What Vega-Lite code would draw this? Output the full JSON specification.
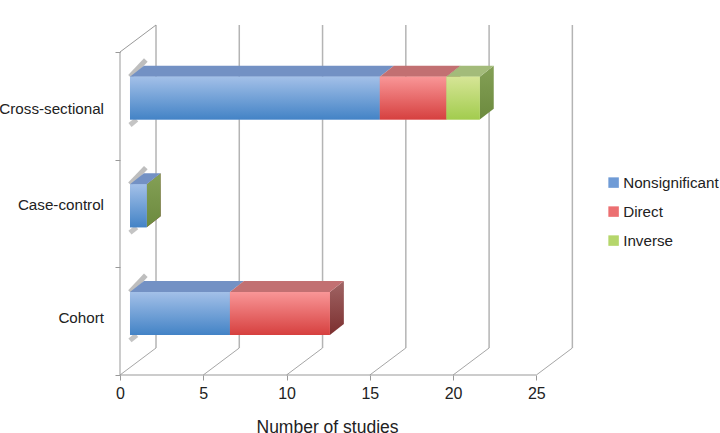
{
"$schema":"https://vega.github.io/schema/vega-lite/v6.json",
"width":453,"height":350,
"autosize":{"type":"none"},
"padding":{"left":120,"top":25,"right":147,"bottom":58},
"background":"white",
"config":{"view":{"stroke":null},"font":"Liberation Sans"},
"resolve":{"axis":{"x":"independent","y":"independent"}},
"datasets":{
"studies":[
{"design":"Cross-sectional","association":"Nonsignificant","n":15},
{"design":"Cross-sectional","association":"Direct","n":4},
{"design":"Cross-sectional","association":"Inverse","n":2},
{"design":"Case-control","association":"Nonsignificant","n":1},
{"design":"Case-control","association":"Direct","n":0},
{"design":"Case-control","association":"Inverse","n":0},
{"design":"Cohort","association":"Nonsignificant","n":6},
{"design":"Cohort","association":"Direct","n":6}
],
"ticks":[{"tick":0},{"tick":5},{"tick":10},{"tick":15},{"tick":20},{"tick":25}],
"designs":[{"design":"Cohort"},{"design":"Case-control"},{"design":"Cross-sectional"}]
},
"data":{"name":"studies"},
"transform":[
{"calculate":"indexof(['Nonsignificant','Direct','Inverse'],datum.association)","as":"ord"},
{"stack":"n","groupby":["design"],"sort":[{"field":"ord","order":"ascending"}],"as":["s0","s1"]},
{"calculate":"indexof(['Cohort','Case-control','Cross-sectional'],datum.design)","as":"row"},
{"calculate":"datum.s0+0.6","as":"xa"},
{"calculate":"datum.s1+0.6","as":"xb"},
{"calculate":"datum.row+0.372","as":"yb"},
{"calculate":"datum.row+0.771","as":"yt"},
{"calculate":"[0,1]","as":"d"},
{"flatten":["d"]},
{"calculate":"datum.xa+datum.d*0.841","as":"xal"},
{"calculate":"datum.xb+datum.d*0.841","as":"xbl"},
{"calculate":"datum.yb+datum.d*0.102","as":"ybl"},
{"calculate":"datum.yt+datum.d*0.102","as":"ytl"}
],
"layer":[
{"data":{"name":"ticks"},"transform":[{"calculate":"datum.tick+2.162","as":"bx"},{"calculate":"0.2508","as":"by0"},{"calculate":"3.2508","as":"by1"}],
"mark":{"type":"rule","stroke":"#b4b4b4","strokeWidth":1.5},
"encoding":{
"x":{"field":"bx","type":"quantitative","scale":{"domain":[0,27.2],"nice":false,"zero":false},
"axis":{"values":[0,5,10,15,20,25],"grid":false,"domain":false,"tickSize":5,"tickColor":"#999999","labelFontSize":16,"labelFlush":false,"labelOverlap":false,"labelColor":"#222222","labelPadding":5,"title":"Number of studies","titleFontSize":17.5,"titleFontWeight":"normal","titleColor":"#222222","titleAnchor":"start","titleAlign":"center","titleBaseline":"alphabetic","titleX":207,"titleY":57}},
"y":{"field":"by0","type":"quantitative","scale":{"domain":[0,3.2508],"nice":false,"zero":false},
"axis":{"values":[0,1,2,3],"labels":false,"grid":false,"domain":false,"tickSize":5,"tickColor":"#999999","title":null}},
"y2":{"field":"by1"}}},
{"data":{"name":"ticks"},"transform":[{"calculate":"datum.tick+2.162","as":"bx"},{"calculate":"0","as":"fy"},{"calculate":"0.2508","as":"by"}],
"mark":{"type":"rule","stroke":"#a6a6a6","strokeWidth":1},
"encoding":{"x":{"field":"tick","type":"quantitative","axis":null},"x2":{"field":"bx"},"y":{"field":"fy","type":"quantitative","axis":null},"y2":{"field":"by"}}},
{"data":{"values":[{"a":0,"b":0,"c":3}]},
"mark":{"type":"rule","stroke":"#999999","strokeWidth":1},
"encoding":{"x":{"field":"a","type":"quantitative","axis":null},"y":{"field":"b","type":"quantitative","axis":null},"y2":{"field":"c"}}},
{"data":{"values":[{"a":0,"b":25,"c":0}]},
"mark":{"type":"rule","stroke":"#999999","strokeWidth":1},
"encoding":{"x":{"field":"a","type":"quantitative","axis":null},"x2":{"field":"b"},"y":{"field":"c","type":"quantitative","axis":null}}},
{"data":{"values":[{"a":0,"b":2.162,"c":3,"e":3.2508}]},
"mark":{"type":"rule","stroke":"#999999","strokeWidth":1},
"encoding":{"x":{"field":"a","type":"quantitative","axis":null},"x2":{"field":"b"},"y":{"field":"c","type":"quantitative","axis":null},"y2":{"field":"e"}}},
{"transform":[{"filter":"datum.association=='Nonsignificant' && datum.d==0"},{"calculate":"datum.xa+0.95","as":"sx"},{"calculate":"datum.yt+0.155","as":"sy"}],
"mark":{"type":"rule","stroke":"#a8a8a8","strokeWidth":5,"opacity":0.75},
"encoding":{"x":{"field":"xa","type":"quantitative","axis":null},"x2":{"field":"sx"},"y":{"field":"yt","type":"quantitative","axis":null},"y2":{"field":"sy"}}},
{"transform":[{"filter":"datum.association=='Nonsignificant' && datum.d==0"},{"calculate":"datum.xa+0.4","as":"sx"},{"calculate":"datum.yb-0.05","as":"sy"}],
"mark":{"type":"rule","stroke":"#b0b0b0","strokeWidth":5,"opacity":0.75},
"encoding":{"x":{"field":"xa","type":"quantitative","axis":null},"x2":{"field":"sx"},"y":{"field":"sy","type":"quantitative","axis":null},"y2":{"field":"yb"}}},
{"transform":[{"filter":"datum.association=='Direct'"}],
"mark":{"type":"area","orient":"vertical","color":{"gradient":"linear","x1":0,"y1":0,"x2":0,"y2":1,"stops":[{"offset":0,"color":"#a06565"},{"offset":1,"color":"#7c2f2f"}]}},
"encoding":{"x":{"field":"xbl","type":"quantitative","axis":null,"stack":null},"y":{"field":"ybl","type":"quantitative","axis":null,"stack":null},"y2":{"field":"ytl"},"detail":{"field":"design"}}},
{"transform":[{"filter":"datum.association=='Inverse'"}],
"mark":{"type":"area","orient":"vertical","color":{"gradient":"linear","x1":0,"y1":0,"x2":0,"y2":1,"stops":[{"offset":0,"color":"#84a056"},{"offset":1,"color":"#6c8a3e"}]}},
"encoding":{"x":{"field":"xbl","type":"quantitative","axis":null,"stack":null},"y":{"field":"ybl","type":"quantitative","axis":null,"stack":null},"y2":{"field":"ytl"},"detail":{"field":"design"}}},
{"transform":[{"filter":"datum.association=='Nonsignificant'"}],
"mark":{"type":"area","orient":"horizontal","color":"#7391c4"},
"encoding":{"y":{"field":"ytl","type":"quantitative","axis":null,"stack":null},"x":{"field":"xal","type":"quantitative","axis":null,"stack":null},"x2":{"field":"xbl"},"detail":{"field":"design"}}},
{"transform":[{"filter":"datum.association=='Direct'"}],
"mark":{"type":"area","orient":"horizontal","color":"#c27072"},
"encoding":{"y":{"field":"ytl","type":"quantitative","axis":null,"stack":null},"x":{"field":"xal","type":"quantitative","axis":null,"stack":null},"x2":{"field":"xbl"},"detail":{"field":"design"}}},
{"transform":[{"filter":"datum.association=='Inverse'"}],
"mark":{"type":"area","orient":"horizontal","color":"#a3bb7a"},
"encoding":{"y":{"field":"ytl","type":"quantitative","axis":null,"stack":null},"x":{"field":"xal","type":"quantitative","axis":null,"stack":null},"x2":{"field":"xbl"},"detail":{"field":"design"}}},
{"transform":[{"filter":"datum.d==0"}],
"mark":{"type":"rect"},
"encoding":{"x":{"field":"xa","type":"quantitative","axis":null},"x2":{"field":"xb"},"y":{"field":"yb","type":"quantitative","axis":null},"y2":{"field":"yt"},
"color":{"field":"association","type":"nominal","scale":{"domain":["Nonsignificant","Direct","Inverse"],"range":["#6f9bd6","#ec6f71","#b5d66b"]},
"legend":{"title":null,"orient":"none","legendX":486,"legendY":150,"symbolType":"square","symbolSize":110,"symbolStrokeWidth":0,"symbolOpacity":1,"labelFontSize":15.2,"labelColor":"#222222","labelOffset":2,"rowPadding":13,"labelLimit":200}}}},
{"transform":[{"filter":"datum.d==0 && datum.association=='Nonsignificant'"}],
"mark":{"type":"rect","color":{"gradient":"linear","x1":0,"y1":0,"x2":0,"y2":1,"stops":[{"offset":0,"color":"#a3c0e8"},{"offset":1,"color":"#4383c6"}]}},
"encoding":{"x":{"field":"xa","type":"quantitative","axis":null},"x2":{"field":"xb"},"y":{"field":"yb","type":"quantitative","axis":null},"y2":{"field":"yt"}}},
{"transform":[{"filter":"datum.d==0 && datum.association=='Direct' && datum.n>0"}],
"mark":{"type":"rect","color":{"gradient":"linear","x1":0,"y1":0,"x2":0,"y2":1,"stops":[{"offset":0,"color":"#f99697"},{"offset":1,"color":"#d6403f"}]}},
"encoding":{"x":{"field":"xa","type":"quantitative","axis":null},"x2":{"field":"xb"},"y":{"field":"yb","type":"quantitative","axis":null},"y2":{"field":"yt"}}},
{"transform":[{"filter":"datum.d==0 && datum.association=='Inverse' && datum.n>0"}],
"mark":{"type":"rect","color":{"gradient":"linear","x1":0,"y1":0,"x2":0,"y2":1,"stops":[{"offset":0,"color":"#d6e596"},{"offset":1,"color":"#a2cc4e"}]}},
"encoding":{"x":{"field":"xa","type":"quantitative","axis":null},"x2":{"field":"xb"},"y":{"field":"yb","type":"quantitative","axis":null},"y2":{"field":"yt"}}},
{"data":{"name":"designs"},"transform":[{"calculate":"indexof(['Cohort','Case-control','Cross-sectional'],datum.design)","as":"row"},{"calculate":"[0.53,1.58,2.47][datum.row]","as":"labelPos"}],
"mark":{"type":"text","align":"right","baseline":"middle","dx":-16,"fontSize":15.2,"color":"#222222"},
"encoding":{"x":{"datum":0,"type":"quantitative","axis":null},"y":{"field":"labelPos","type":"quantitative","axis":null},"text":{"field":"design"}}}
]
}
